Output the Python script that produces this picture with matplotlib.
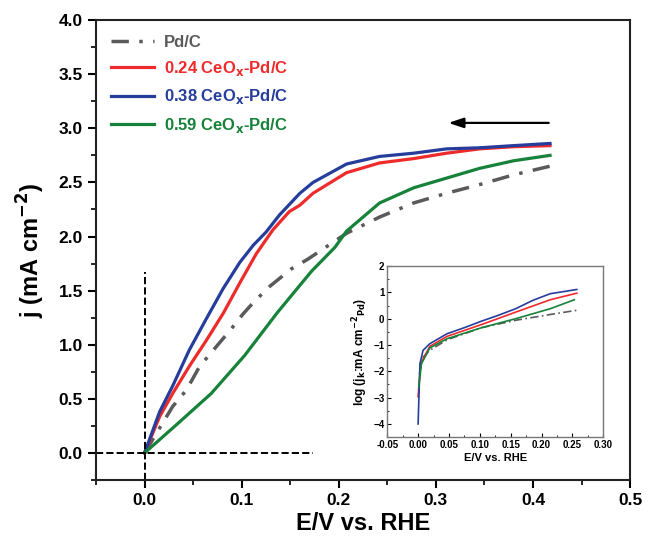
import matplotlib.pyplot as plt
from matplotlib.ticker import MultipleLocator
from matplotlib import rcParams

rcParams['font.family'] = ['Liberation Sans', 'DejaVu Sans']
rcParams['font.weight'] = 'bold'
rcParams['mathtext.default'] = 'bf'

# 数据
labels = ['Pd/C', '0.24 CeO$_x$-Pd/C', '0.38 CeO$_x$-Pd/C', '0.59 CeO$_x$-Pd/C']
colors = ['#5a5a5a', '#ee2b2b', '#263d9c', '#16823a']

# 主图: LSV 曲线
E_pd = [0.0, 0.029, 0.043, 0.0567, 0.0887, 0.101, 0.113, 0.129, 0.151, 0.168,
        0.208, 0.242, 0.277, 0.311, 0.345, 0.38, 0.4175]
j_pd = [0.0, 0.43, 0.58, 0.80, 1.14, 1.28, 1.40, 1.54, 1.70, 1.79,
        2.03, 2.18, 2.31, 2.40, 2.48, 2.57, 2.65]

E_24 = [0.0, 0.0155, 0.029, 0.046, 0.0636, 0.081, 0.098, 0.115, 0.132, 0.149, 0.160,
        0.1735, 0.208, 0.242, 0.277, 0.311, 0.345, 0.38, 0.4175]
j_24 = [0.0, 0.335, 0.55, 0.80, 1.04, 1.29, 1.57, 1.84, 2.06, 2.23, 2.29,
        2.40, 2.59, 2.68, 2.72, 2.77, 2.81, 2.83, 2.84]

E_38 = [0.0, 0.0155, 0.029, 0.046, 0.0636, 0.081, 0.098, 0.112, 0.125, 0.139, 0.160,
        0.1735, 0.208, 0.242, 0.277, 0.311, 0.345, 0.38, 0.4175]
j_38 = [0.0, 0.38, 0.62, 0.95, 1.24, 1.52, 1.76, 1.92, 2.04, 2.20, 2.40,
        2.50, 2.67, 2.74, 2.77, 2.81, 2.82, 2.84, 2.86]

E_59 = [0.0, 0.034, 0.0687, 0.103, 0.137, 0.172, 0.196, 0.208, 0.242, 0.277, 0.311, 0.345, 0.38, 0.4175]
j_59 = [0.0, 0.27, 0.55, 0.90, 1.30, 1.68, 1.90, 2.05, 2.31, 2.45, 2.54, 2.63, 2.70, 2.75]

# 插图: Tafel 曲线
iE_pd = [0.002, 0.008, 0.019, 0.047, 0.103, 0.158, 0.214, 0.257]
ij_pd = [-2.1, -1.46, -1.2, -0.8, -0.34, -0.06, 0.16, 0.32]

iE_24 = [0.0, 0.004, 0.019, 0.047, 0.103, 0.158, 0.214, 0.257]
ij_24 = [-2.97, -1.71, -1.05, -0.67, -0.22, 0.25, 0.72, 0.97]

iE_38 = [0.0, 0.003, 0.008, 0.019, 0.047, 0.075, 0.103, 0.13, 0.158, 0.186, 0.214, 0.257]
ij_38 = [-4.0, -1.71, -1.2, -0.95, -0.57, -0.34, -0.09, 0.13, 0.38, 0.70, 0.95, 1.11]

iE_59 = [0.001, 0.0055, 0.019, 0.047, 0.103, 0.158, 0.214, 0.253]
ij_59 = [-2.6, -1.71, -1.11, -0.76, -0.34, 0.0, 0.38, 0.72]

fig = plt.figure(figsize=(6.53, 5.43), dpi=100)
ax = fig.add_axes([0.147, 0.116, 0.818, 0.847])

main = [(E_pd, j_pd), (E_24, j_24), (E_38, j_38), (E_59, j_59)]
for i, (x, y) in enumerate(main):
    if i == 0:
        ax.plot(x, y, color=colors[i], lw=2.5, dashes=(5, 3, 1, 3), label=labels[i])
    else:
        ax.plot(x, y, color=colors[i], lw=2.3, label=labels[i])

# 虚线
ax.plot([0, 0], [-0.25, 1.67], 'k--', lw=1.4)
ax.plot([-0.05, 0.173], [0, 0], 'k--', lw=1.4)

# 箭头
ax.annotate('', xy=(0.31, 3.05), xytext=(0.419, 3.05),
            arrowprops=dict(arrowstyle='-|>,head_length=0.9,head_width=0.3', color='k', lw=1.6))

ax.set_xlim(-0.05, 0.5)
ax.set_ylim(-0.25, 4.0)
ax.xaxis.set_major_locator(MultipleLocator(0.1))
ax.xaxis.set_minor_locator(MultipleLocator(0.05))
ax.yaxis.set_major_locator(MultipleLocator(0.5))
ax.yaxis.set_minor_locator(MultipleLocator(0.25))
ax.tick_params(which='major', direction='out', length=6, width=1.5, labelsize=12.5)
ax.tick_params(which='minor', direction='out', length=3.5, width=1.2)
for s in ax.spines.values():
    s.set_linewidth(1.5)
    s.set_color('#222222')
ax.set_xlabel('E/V vs. RHE', fontsize=17, fontweight='bold', labelpad=3)
ax.set_ylabel('j (mA cm$^{-2}$)', fontsize=17, fontweight='bold', labelpad=8)

leg = ax.legend(loc='upper left', frameon=False, fontsize=12, handlelength=2.6,
                labelspacing=0.55, borderaxespad=0.5, handletextpad=0.6)
for t, c in zip(leg.get_texts(), colors):
    t.set_color(c)

# 插图
ins = fig.add_axes([0.593, 0.195, 0.331, 0.315])
inset = [(iE_pd, ij_pd), (iE_24, ij_24), (iE_38, ij_38), (iE_59, ij_59)]
for i, (x, y) in enumerate(inset):
    if i == 0:
        ins.plot(x, y, color=colors[i], lw=1.2, dashes=(5, 2, 1, 2))
    else:
        ins.plot(x, y, color=colors[i], lw=1.2)
ins.set_xlim(-0.05, 0.30)
ins.set_ylim(-4.5, 2)
ins.xaxis.set_major_locator(MultipleLocator(0.05))
ins.xaxis.set_minor_locator(MultipleLocator(0.025))
ins.yaxis.set_major_locator(MultipleLocator(1))
ins.yaxis.set_minor_locator(MultipleLocator(0.5))
ins.tick_params(which='major', direction='in', length=3, width=0.8, labelsize=7, pad=2)
ins.tick_params(which='minor', direction='in', length=1.5, width=0.6)
ins.set_xticklabels([f'{v:.2f}' for v in ins.get_xticks()])
for s in ins.spines.values():
    s.set_color('#777777')
    s.set_linewidth(1.0)
ins.set_xlabel('E/V vs. RHE', fontsize=8, fontweight='bold', labelpad=2)
ins.set_ylabel('log (j$_k$:mA cm$^{-2}$$_{Pd}$)', fontsize=8.5, fontweight='bold', labelpad=2)

fig.savefig('out.png', dpi=100)
